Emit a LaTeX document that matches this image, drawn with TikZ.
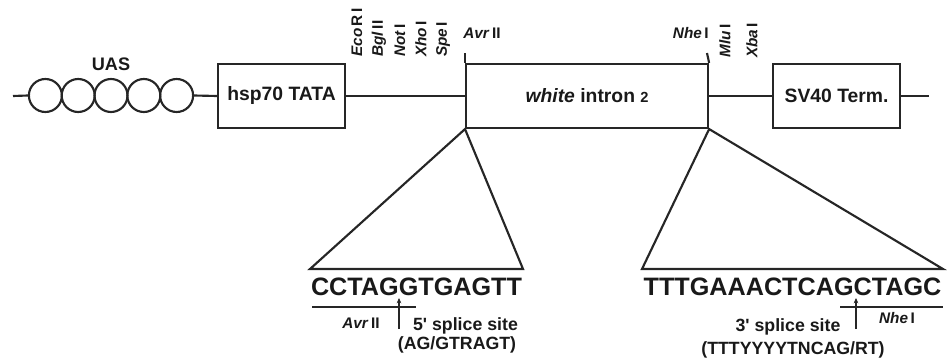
\documentclass[tikz,border=0pt]{standalone}
\usepackage{fontspec}
\setmainfont{Liberation Sans}
\usetikzlibrary{arrows.meta}
\begin{document}
\begin{tikzpicture}[x=0.75pt,y=-0.75pt,
  every node/.style={font=\bfseries, text=black!90},
  ln/.style={line width=1.6pt, black!85},
  uas/.style={circle, draw=black!85, line width=1.6pt, minimum size=24.75pt, inner sep=0pt},
  gbox/.style={draw=black!85, line width=1.6pt, minimum height=48pt, inner sep=0pt, anchor=west},
  boxtxt/.style={font=\fontsize{14.5}{16}\selectfont\bfseries},
  site/.style={font=\fontsize{11.5}{13}\selectfont\bfseries, inner sep=0pt},
  rsite/.style={site, rotate=90, anchor=west},
  seq/.style={font=\fontsize{18.9}{20}\selectfont\bfseries, inner sep=0pt},
  lab/.style={font=\fontsize{13.3}{15}\selectfont\bfseries, inner sep=0pt},
  tip/.style={-{Stealth[length=4pt,width=3.5pt]}}
]
\useasboundingbox (0,0) rectangle (950,364);

% UAS repeats
\node[uas] (c1) at (45.4,95.5) {};
\node[uas] (c2) at (78.2,95.5) {};
\node[uas] (c3) at (111,95.5) {};
\node[uas] (c4) at (143.8,95.5) {};
\node[uas] (c5) at (176.6,95.5) {};
\node[font=\fontsize{13.6}{15}\selectfont\bfseries] (uaslab) at (111,64) {UAS};

% boxes
\node[gbox, minimum width=95.25pt] (hsp) at (217,96) {};
\node[boxtxt] (hsptxt) at (hsp.center) {hsp70 TATA};
\node[gbox, minimum width=181.5pt] (win) at (465,96) {};
\node[boxtxt] (wintxt) at (win.center) {\textit{white} intron {\fontsize{11}{12}\selectfont 2}};
\node[gbox, minimum width=95.25pt] (sv) at (772,96) {};
\node[boxtxt] (svtxt) at (sv.center) {SV40 Term.};

% backbone
\coordinate (L) at (13,96);
\coordinate (R) at (929,96);
\draw[ln] (L) -- (c1.west);
\draw[ln] (c5.east) -- (hsp.west);
\draw[ln] (hsp.east) -- (win.west);
\draw[ln] (win.east) -- (sv.west);
\draw[ln] (sv.east) -- (R);

% site ticks above the intron box
\coordinate (avrtop) at (465,53);
\coordinate (nhetop) at (707,53);
\draw[ln] (win.north west) -- (avrtop);
\draw[ln] (win.north east) -- (nhetop);

% restriction site labels
\node[site, anchor=west] (avr) at (463,33) {\textit{Avr}\,II};
\node[site, anchor=east] (nhe) at (709,33) {\textit{Nhe}\,I};
\node[rsite] (eco) at (357,57) {\textit{Eco}\,R\,I};
\node[rsite] (bgl) at (379,57) {\textit{Bgl}\,II};
\node[rsite] (not) at (400,57) {\textit{Not}\,I};
\node[rsite] (xho) at (421,57) {\textit{Xho}\,I};
\node[rsite] (spe) at (443,57) {\textit{Spe}\,I};
\node[rsite] (mlu) at (725,58) {\textit{Mlu}\,I};
\node[rsite] (xba) at (752,58) {\textit{Xba}\,I};

% expansion triangles
\coordinate (t1l) at (310,269);
\coordinate (t1r) at (523,269);
\coordinate (t2l) at (642,269);
\coordinate (t2r) at (943,269);
\draw[ln, line join=miter] (win.south west) -- (t1l) -- (t1r) -- cycle;
\draw[ln, line join=miter] (win.south east) -- (t2l) -- (t2r) -- cycle;

% sequences
\node[seq] (s1) at (416.5,287) {CCTAGGTGAGTT};
\node[seq] (s2) at (792.5,287) {TTTGAAACTCAGCTAGC};

% 5' site annotations
\coordinate (b1l) at (312,307);
\coordinate (b1r) at (416,307);
\draw[ln] (b1l) -- (b1r);
\coordinate (a1b) at (399,329);
\coordinate (a1t) at (399,298);
\draw[ln, line width=1.3pt, tip] (a1b) -- (a1t);
\node[site] (avr2) at (361,323) {\textit{Avr}\,II};
\node[lab] (ss5) at (465.5,326) {5\textquotesingle\ splice site};
\node[lab] (cons5) at (457,345) {(AG/GTRAGT)};

% 3' site annotations
\coordinate (b2l) at (840,307);
\coordinate (b2r) at (943,307);
\draw[ln] (b2l) -- (b2r);
\coordinate (a2b) at (856,329);
\coordinate (a2t) at (856,298);
\draw[ln, line width=1.3pt, tip] (a2b) -- (a2t);
\node[site] (nhe2) at (897,318) {\textit{Nhe}\,I};
\node[lab] (ss3) at (788,327) {3\textquotesingle\ splice site};
\node[lab] (cons3) at (793,350) {(TTTYYYYTNCAG/RT)};
\end{tikzpicture}
\end{document}
